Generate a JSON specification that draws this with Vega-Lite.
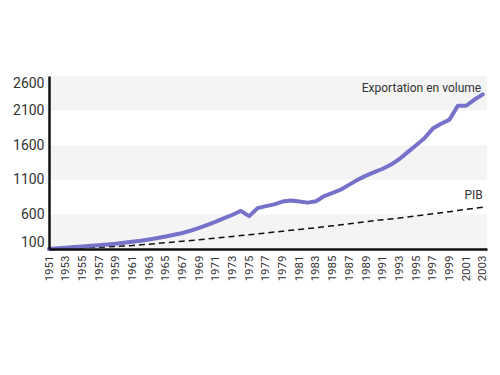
{
  "$schema": "https://vega.github.io/schema/vega-lite/v6.json",
  "width": 438,
  "height": 173,
  "autosize": "none",
  "padding": {"left": 49, "top": 76, "right": 13, "bottom": 126},
  "background": "white",
  "config": {
    "view": {"stroke": null},
    "font": "Roboto",
    "axis": {"labelColor": "#333333", "grid": false, "ticks": false, "domainColor": "#111111", "domainWidth": 2.5, "title": null}
  },
  "datasets": {
    "bands": [
      {"lo": 100, "hi": 600},
      {"lo": 1100, "hi": 1600},
      {"lo": 2100, "hi": 2600}
    ],
    "labels": [
      {"year": 2002.8, "value": 2426, "label": "Exportation en volume"},
      {"year": 2003, "value": 880, "label": "PIB"}
    ],
    "series": [
      {"year": 1951, "export": 100, "pib": 100},
      {"year": 1952, "export": 110, "pib": 104},
      {"year": 1953, "export": 119, "pib": 108},
      {"year": 1954, "export": 128, "pib": 112},
      {"year": 1955, "export": 137, "pib": 116},
      {"year": 1956, "export": 146, "pib": 121},
      {"year": 1957, "export": 155, "pib": 126},
      {"year": 1958, "export": 165, "pib": 131},
      {"year": 1959, "export": 175, "pib": 137},
      {"year": 1960, "export": 190, "pib": 143},
      {"year": 1961, "export": 205, "pib": 150},
      {"year": 1962, "export": 220, "pib": 160},
      {"year": 1963, "export": 238, "pib": 170},
      {"year": 1964, "export": 258, "pib": 181},
      {"year": 1965, "export": 280, "pib": 192},
      {"year": 1966, "export": 305, "pib": 202},
      {"year": 1967, "export": 332, "pib": 212},
      {"year": 1968, "export": 365, "pib": 223},
      {"year": 1969, "export": 405, "pib": 234},
      {"year": 1970, "export": 450, "pib": 246},
      {"year": 1971, "export": 495, "pib": 258},
      {"year": 1972, "export": 545, "pib": 270},
      {"year": 1973, "export": 595, "pib": 282},
      {"year": 1974, "export": 650, "pib": 294},
      {"year": 1975, "export": 575, "pib": 305},
      {"year": 1976, "export": 690, "pib": 318},
      {"year": 1977, "export": 720, "pib": 330},
      {"year": 1978, "export": 745, "pib": 344},
      {"year": 1979, "export": 785, "pib": 357},
      {"year": 1980, "export": 800, "pib": 370},
      {"year": 1981, "export": 785, "pib": 382},
      {"year": 1982, "export": 770, "pib": 395},
      {"year": 1983, "export": 790, "pib": 407},
      {"year": 1984, "export": 865, "pib": 421},
      {"year": 1985, "export": 910, "pib": 435},
      {"year": 1986, "export": 960, "pib": 450},
      {"year": 1987, "export": 1030, "pib": 465},
      {"year": 1988, "export": 1100, "pib": 480},
      {"year": 1989, "export": 1160, "pib": 495},
      {"year": 1990, "export": 1210, "pib": 509},
      {"year": 1991, "export": 1260, "pib": 523},
      {"year": 1992, "export": 1320, "pib": 535},
      {"year": 1993, "export": 1400, "pib": 548},
      {"year": 1994, "export": 1500, "pib": 563},
      {"year": 1995, "export": 1600, "pib": 578},
      {"year": 1996, "export": 1700, "pib": 593},
      {"year": 1997, "export": 1840, "pib": 608},
      {"year": 1998, "export": 1910, "pib": 624},
      {"year": 1999, "export": 1970, "pib": 640},
      {"year": 2000, "export": 2170, "pib": 656},
      {"year": 2001, "export": 2170, "pib": 672},
      {"year": 2002, "export": 2260, "pib": 688},
      {"year": 2003, "export": 2335, "pib": 705}
    ]
  },
  "layer": [
    {
      "data": {"name": "bands"},
      "mark": {"type": "rect", "color": "#f4f4f4"},
      "encoding": {
        "y": {"field": "lo", "type": "quantitative", "scale": {"domain": [100, 2600], "nice": false, "zero": false},
          "axis": {"values": [100, 600, 1100, 1600, 2100, 2600], "tickCount": 20, "format": "d", "labelFontSize": 14, "labelPadding": 5, "labelFlush": true, "labelOverlap": false, "zindex": 2}},
        "y2": {"field": "hi"}
      }
    },
    {
      "data": {"name": "series"},
      "mark": {"type": "line", "color": "#111111", "strokeWidth": 1.5, "strokeDash": [6, 4]},
      "encoding": {
        "x": {"field": "year", "type": "quantitative", "scale": {"domain": [1951, 2003.5], "nice": false, "zero": false},
          "axis": {"values": [1951,1953,1955,1957,1959,1961,1963,1965,1967,1969,1971,1973,1975,1977,1979,1981,1983,1985,1987,1989,1991,1993,1995,1997,1999,2001,2003], "tickCount": 60, "format": "d", "labelAngle": -90, "labelFontSize": 11.5, "labelPadding": 6, "labelFlush": false, "labelBound": false, "labelOverlap": false, "zindex": 2}},
        "y": {"field": "pib", "type": "quantitative"}
      }
    },
    {
      "data": {"name": "series"},
      "mark": {"type": "line", "color": "#7671c9", "strokeWidth": 4, "strokeJoin": "round", "strokeCap": "round"},
      "encoding": {
        "x": {"field": "year", "type": "quantitative"},
        "y": {"field": "export", "type": "quantitative"}
      }
    },
    {
      "data": {"name": "labels"},
      "mark": {"type": "text", "align": "right", "baseline": "middle", "fontSize": 12, "color": "#333333"},
      "encoding": {
        "x": {"field": "year", "type": "quantitative"},
        "y": {"field": "value", "type": "quantitative"},
        "text": {"field": "label"}
      }
    }
  ]
}
